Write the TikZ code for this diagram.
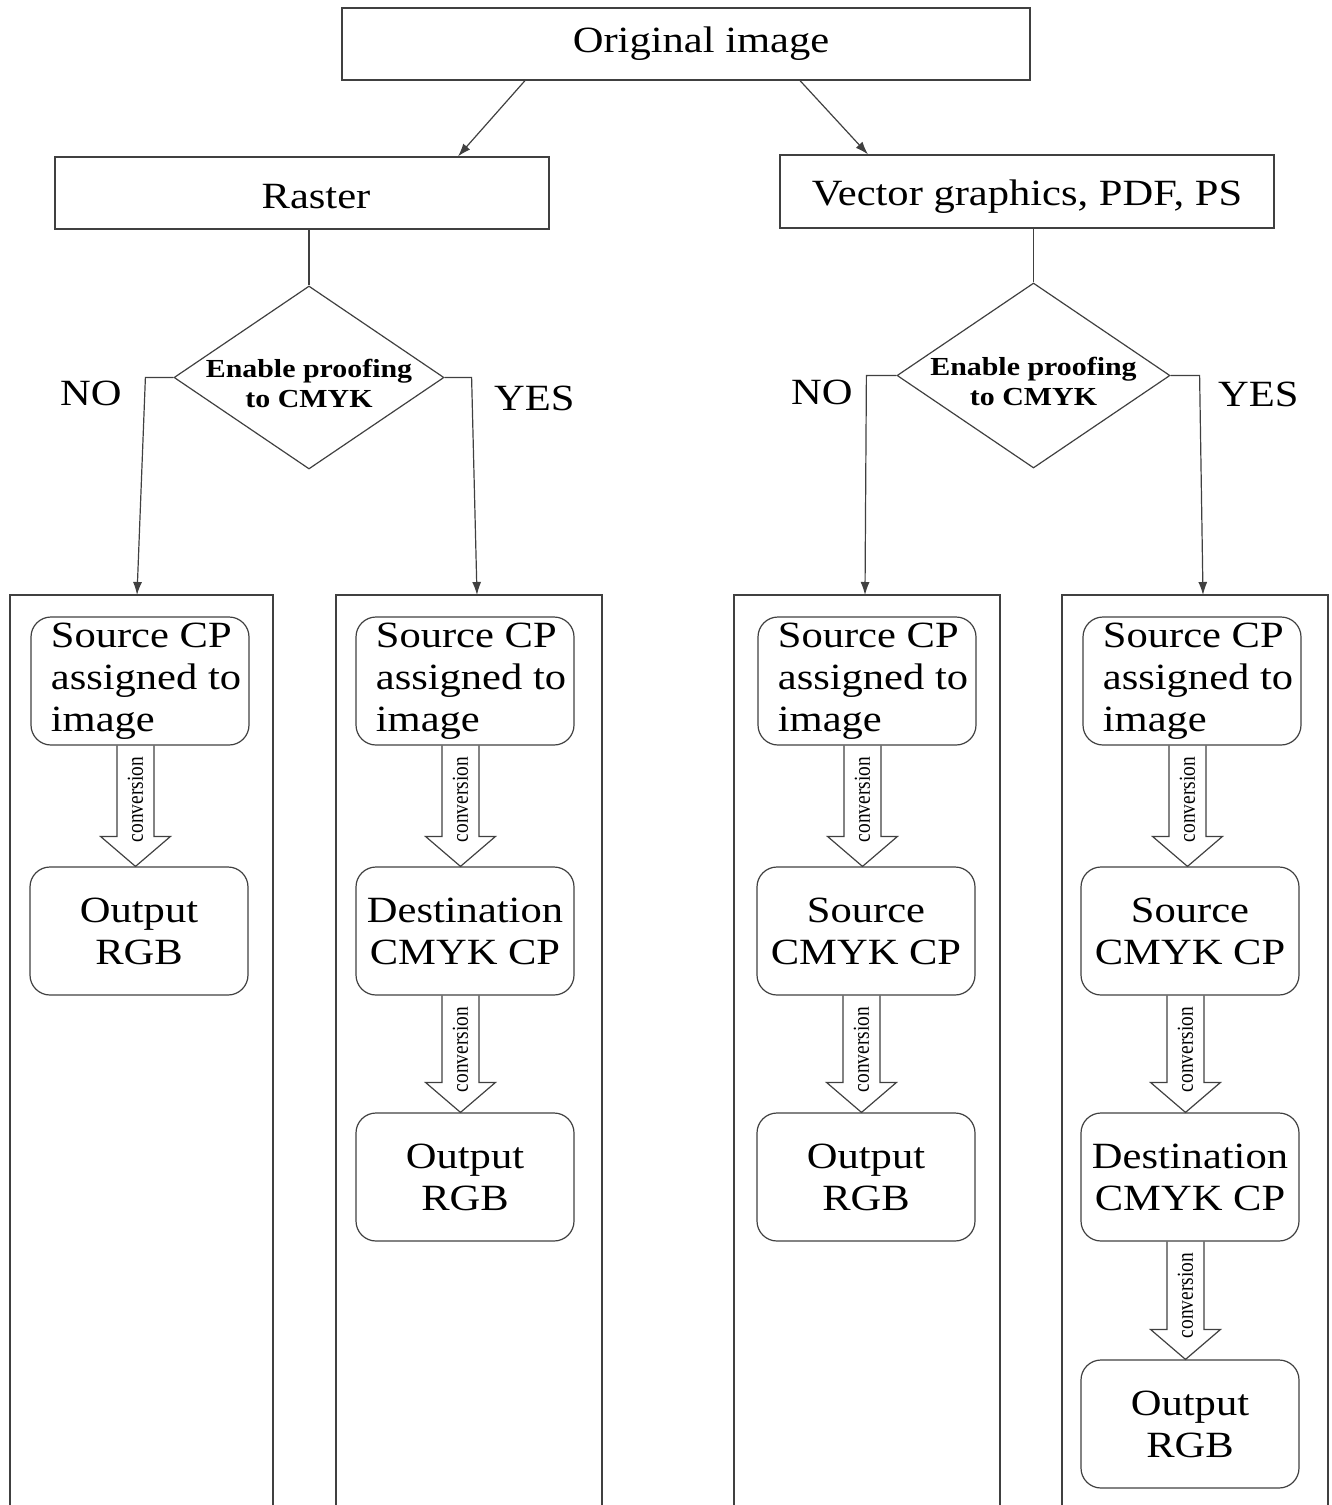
\documentclass[tikz,border=0pt]{standalone}
\usepackage{fontspec}
\setmainfont{Liberation Serif}[FakeStretch=1.15]
\newfontfamily\convfont{Liberation Serif}[FakeStretch=0.85]
\usetikzlibrary{shapes.geometric,arrows.meta,calc}

\tikzset{
  ln/.style={draw=black!75, line width=1.2pt},
  mainfont/.style={font=\fontsize{37}{42}\selectfont},
  topbox/.style={ln, rectangle, minimum height=72pt, inner sep=0pt, mainfont},
  rbox/.style={ln, rectangle, rounded corners=20pt, minimum width=218pt, minimum height=128pt, inner sep=0pt, align=center, mainfont},
  colbox/.style={rectangle, minimum height=910pt, inner sep=0pt, outer sep=0pt},
  dia/.style={ln, diamond, inner sep=0pt},
  diatext/.style={align=center, font=\fontsize{26}{30}\selectfont\bfseries, inner sep=0pt},
  yn/.style={anchor=base west, inner sep=0pt, mainfont},
  arr/.style={ln, -{Latex[length=13pt,width=9pt]}},
  blk/.style={ln},
  convtext/.style={rotate=90, inner sep=0pt, font=\convfont\fontsize{22.8}{24}\selectfont},
}

\newcommand\convarrow[3]{%
  \draw[blk] let \p1=(#2.south), \p2=(#3.north) in
   (\x1-23pt,\y1) -- (\x1-23pt,\y2+30pt) -- (\x1-39.5pt,\y2+30pt) -- (\x1-4.5pt,\y2)
   -- (\x1+30.5pt,\y2+30pt) -- (\x1+14pt,\y2+30pt) -- (\x1+14pt,\y1);
  \path let \p1=(#2.south) in node[convtext] (#1) at (\x1-4.5pt,\y1-54pt) {conversion};
}
\newcommand\srctext{\hspace*{12pt}\begin{tabular}{@{}l@{}}Source CP\\assigned to\\image\end{tabular}}

\begin{document}
\begin{tikzpicture}[x=1pt,y=-1pt]
\useasboundingbox (0,0) rectangle (1332,1505);

% top level
\node[topbox, minimum width=688pt] (o) at (686,44) {\hspace*{30pt}Original image};
\node[topbox, minimum width=494pt, text height=30pt, text depth=0pt] (r) at (302,193) {\hspace*{28pt}Raster};
\node[topbox, minimum width=494pt, minimum height=73pt, text height=27pt, text depth=0pt] (v) at (1027,191.5) {Vector graphics, PDF, PS};

\draw[arr] ([xshift=-161pt]o.south) -- ([xshift=156pt]r.north);
\draw[arr] ([xshift=114pt]o.south) -- ([xshift=-159pt]v.north);

% decisions
\node[dia, minimum width=270pt, minimum height=183pt] (d1) at (309,377.5) {};
\node[diatext] (t1) at ([yshift=-6pt]d1.center) {Enable proofing\\to CMYK};
\node[dia, minimum width=273pt, minimum height=185pt] (d2) at (1033.5,375.5) {};
\node[diatext] (t2) at ([yshift=-6pt]d2.center) {Enable proofing\\to CMYK};

\draw[ln] (d1.north |- r.south) -- (d1.north);
\draw[ln] (d2.north |- v.south) -- (d2.north);

% columns
\node[colbox, minimum width=263pt] (c1) at (141.5,1050) {};
\node[colbox, minimum width=266pt] (c2) at (469,1050) {};
\node[colbox, minimum width=266pt] (c3) at (867,1050) {};
\node[colbox, minimum width=266pt] (c4) at (1195,1050) {};
\foreach \c in {c1,c2,c3,c4}
  \draw[ln] (\c.south west) -- (\c.north west) -- (\c.north east) -- (\c.south east);

% yes / no
\draw[arr] (d1.west) -- ++(-28,0) -- ([xshift=-4.5pt]c1.north);
\draw[arr] (d1.east) -- ++(27,0) -- ([xshift=8pt]c2.north);
\draw[arr] (d2.west) -- ++(-30,0) -- ([xshift=-2pt]c3.north);
\draw[arr] (d2.east) -- ++(29,0) -- ([xshift=8pt]c4.north);

\node[yn] (no1) at (60,405) {NO};
\node[yn] (yes1) at (494,410) {YES};
\node[yn] (no2) at (791,404) {NO};
\node[yn] (yes2) at (1218,406) {YES};

% column 1
\node[rbox] (s1a) at (140,681) {\srctext};
\node[rbox] (s1b) at (139,931) {Output\\RGB};
% column 2
\node[rbox] (s2a) at (465,681) {\srctext};
\node[rbox] (s2b) at (465,931) {Destination\\CMYK CP};
\node[rbox] (s2c) at (465,1177) {Output\\RGB};
% column 3
\node[rbox] (s3a) at (867,681) {\srctext};
\node[rbox] (s3b) at (866,931) {Source\\CMYK CP};
\node[rbox] (s3c) at (866,1177) {Output\\RGB};
% column 4
\node[rbox] (s4a) at (1192,681) {\srctext};
\node[rbox] (s4b) at (1190,931) {Source\\CMYK CP};
\node[rbox] (s4c) at (1190,1177) {Destination\\CMYK CP};
\node[rbox] (s4d) at (1190,1424) {Output\\RGB};

\convarrow{cv1}{s1a}{s1b}
\convarrow{cv2}{s2a}{s2b}
\convarrow{cv3}{s2b}{s2c}
\convarrow{cv4}{s3a}{s3b}
\convarrow{cv5}{s3b}{s3c}
\convarrow{cv6}{s4a}{s4b}
\convarrow{cv7}{s4b}{s4c}
\convarrow{cv8}{s4c}{s4d}
\end{tikzpicture}
\end{document}
